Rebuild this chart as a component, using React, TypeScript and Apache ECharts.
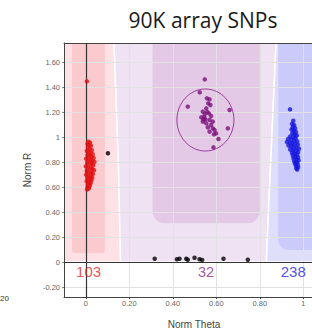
import React, { useEffect, useRef } from "react";
import * as echarts from "echarts";

// Axis ticks
const xTicks = [0, 0.2, 0.4, 0.6, 0.8, 1];
const yTicks = [-0.2, 0, 0.2, 0.4, 0.6, 0.8, 1, 1.2, 1.4, 1.6];

// Genotype call zones (light), as polygons in data coordinates [theta, R]
const zoneAA = [[-0.1, 0], [0.16, 0], [0.15, 0.8], [0.13, 1.752], [-0.1, 1.752]];
const zoneAB = [[0.16, 0], [0.83, 0], [0.845, 0.6], [0.875, 1.752], [0.13, 1.752], [0.15, 0.8]];
const zoneBB = [[0.83, 0], [1.1, 0], [1.1, 1.752], [0.875, 1.752], [0.845, 0.6]];

// Dense cluster boxes [x0, x1, yBottom, yTop]
const boxAA = [-0.064, 0.088, 0.072, 1.752];
const boxAB = [0.307, 0.8, 0.31, 1.752];
const boxBB = [0.885, 1.1, 0.096, 1.752];

// Cluster ellipses [cx, cy, rx, ry]
const ellipseAA = [0.015, 0.72, 0.014, 0.145];
const ellipseAB = [0.55, 1.136, 0.131, 0.248];

// Sample points [normTheta, normR]
const pointsAA = [
  [0.005, 1.445],
  [0.012, 0.962], [0.02, 0.955], [0.008, 0.945], [0.016, 0.935], [0.024, 0.93],
  [0.01, 0.918], [0.018, 0.905], [0.028, 0.895], [0.005, 0.888], [0.014, 0.878],
  [0.022, 0.87], [0.032, 0.862], [0.008, 0.855], [0.018, 0.848], [0.026, 0.84],
  [0.036, 0.832], [0.002, 0.826], [0.012, 0.82], [0.022, 0.812], [0.03, 0.805],
  [0.04, 0.8], [0.006, 0.795], [0.016, 0.788], [0.026, 0.78], [0.034, 0.772],
  [0.0, 0.765], [0.01, 0.758], [0.02, 0.75], [0.03, 0.742], [0.038, 0.735],
  [0.005, 0.728], [0.015, 0.72], [0.025, 0.712], [0.033, 0.705], [0.002, 0.698],
  [0.012, 0.69], [0.022, 0.682], [0.03, 0.675], [0.008, 0.668], [0.018, 0.66],
  [0.026, 0.652], [0.004, 0.645], [0.014, 0.638], [0.022, 0.63], [0.01, 0.62],
  [0.018, 0.61], [0.008, 0.6], [0.014, 0.59], [0.006, 0.58],
];

const pointsAB = [
  [0.547, 1.461], [0.524, 1.357], [0.469, 1.243], [0.661, 1.216], [0.653, 1.069],
  [0.587, 0.917], [0.61, 0.984],
  [0.557, 1.309], [0.569, 1.301], [0.563, 1.269], [0.573, 1.256], [0.554, 1.229],
  [0.538, 1.203], [0.547, 1.184], [0.566, 1.189], [0.531, 1.157], [0.55, 1.141],
  [0.569, 1.136], [0.584, 1.123], [0.538, 1.123], [0.554, 1.109], [0.576, 1.096],
  [0.561, 1.077], [0.584, 1.069], [0.592, 1.056], [0.599, 1.029], [0.569, 1.043],
  [0.576, 1.168], [0.541, 1.141], [0.589, 1.021], [0.558, 1.2], [0.545, 1.16],
];

const pointsBB = [
  [0.939, 1.221], [0.954, 1.13], [0.948, 1.105], [0.958, 1.095], [0.952, 1.08],
  [0.962, 1.07], [0.946, 1.06], [0.956, 1.05], [0.966, 1.04], [0.95, 1.03],
  [0.96, 1.02], [0.97, 1.012], [0.94, 1.005], [0.954, 0.998], [0.964, 0.99],
  [0.93, 0.985], [0.945, 0.978], [0.958, 0.97], [0.972, 0.965], [0.925, 0.96],
  [0.938, 0.955], [0.95, 0.948], [0.962, 0.942], [0.975, 0.938], [0.932, 0.932],
  [0.944, 0.925], [0.956, 0.918], [0.968, 0.912], [0.98, 0.906], [0.94, 0.9],
  [0.952, 0.893], [0.964, 0.886], [0.976, 0.88], [0.948, 0.872], [0.96, 0.865],
  [0.972, 0.858], [0.952, 0.85], [0.964, 0.842], [0.976, 0.835], [0.955, 0.828],
  [0.968, 0.82], [0.978, 0.812], [0.958, 0.805], [0.97, 0.797], [0.962, 0.788],
  [0.974, 0.78], [0.966, 0.77], [0.976, 0.76], [0.968, 0.75], [0.972, 0.74],
];

const pointsNoCall = [
  [0.102, 0.87],
  [0.317, 0.026], [0.419, 0.022], [0.431, 0.026], [0.462, 0.026], [0.469, 0.018],
  [0.5, 0.034], [0.523, 0.022], [0.535, 0.016], [0.633, 0.026], [0.745, 0.018],
];

// Genotype counts and where they are printed
const genotypes = ["AA", "AB", "BB"];
const counts = [103, 32, 238];
const countTheta = [0.013, 0.553, 0.954];
const countR = [-0.078, -0.078, -0.078];

const zones = [zoneAA, zoneAB, zoneBB];
const boxes = [boxAA, boxAB, boxBB];
const ellipses = [ellipseAA, ellipseAB];

const zoneColors = ["#fde1e4", "#efe3f3", "#dfdffc"];
const boxColors = ["#fbcace", "#e3c9e6", "#cacafb"];
const boxRadius = [[0, 0, 3, 3], [0, 0, 12, 12], [0, 0, 0, 10]];
const ellipseColors = ["#e01818", "#9a3c9a"];
const countColors = ["#e02828", "#862a86", "#2424e0"];
const FONT = "'Liberation Sans', Arial, sans-serif";

const fmt = (v: number) => (v === 0 ? "0" : v === 1 ? "1" : v.toFixed(2));

export default function App() {
  const ref = useRef<HTMLDivElement>(null);
  useEffect(() => {
    if (!ref.current) return;
    const chart = echarts.init(ref.current, null, { renderer: "svg" });
    const xMin = -0.1, xMax = 1.04, yMin = -0.28, yMax = 1.752;
    chart.setOption({
      animation: false,
      backgroundColor: "#ffffff",
      grid: { left: 64, top: 43, right: 0, bottom: 35, show: false },
      graphic: [
        { type: "text", x: 203, y: 20, style: { text: "90K array SNPs", fontFamily: "'Open Sans', sans-serif", fontSize: 21, fill: "#1a1a1a", textAlign: "center", textVerticalAlign: "middle" } },
        { type: "text", x: 27, y: 170, rotation: Math.PI / 2, style: { text: "Norm R", fontFamily: FONT, fontSize: 10, fill: "#444", textAlign: "center", textVerticalAlign: "middle" } },
        { type: "text", x: 194, y: 324, style: { text: "Norm Theta", fontFamily: FONT, fontSize: 10, fill: "#444", textAlign: "center", textVerticalAlign: "middle" } },
        { type: "text", x: 0, y: 298, style: { text: "20", fontFamily: FONT, fontSize: 8, fill: "#333", textAlign: "left", textVerticalAlign: "middle" } },
      ],
      xAxis: [
        {
          type: "value", min: xMin, max: xMax, position: "bottom", z: 2,
          axisLine: { show: true, onZero: false, lineStyle: { color: "#444", width: 1 } },
          axisTick: { show: true, length: 2, customValues: xTicks, lineStyle: { color: "#444" } },
          axisLabel: { customValues: xTicks, formatter: fmt, fontSize: 7.5, color: "#666", margin: 2, fontFamily: FONT },
          splitLine: { show: true, lineStyle: { color: "#e2e2e2", width: 1 } },
        },
        {
          type: "value", min: xMin, max: xMax, position: "top", z: 2,
          axisLine: { show: true, onZero: false, lineStyle: { color: "#444", width: 1 } },
          axisTick: { show: false }, axisLabel: { show: false }, splitLine: { show: false },
        },
      ],
      yAxis: {
        type: "value", min: yMin, max: yMax, z: 2,
        axisLine: { show: true, onZero: false, lineStyle: { color: "#444", width: 1 } },
        axisTick: { show: true, length: 2, customValues: yTicks, lineStyle: { color: "#888" } },
        axisLabel: { customValues: yTicks, formatter: fmt, fontSize: 7.5, color: "#666", margin: 4, fontFamily: FONT },
        splitLine: { show: true, lineStyle: { color: "#e2e2e2", width: 1 } },
      },
      series: [
        {
          type: "custom", z: 0, clip: true, silent: true,
          data: zones.map((z) => z[0]),
          renderItem: (params: any, api: any) => {
            const pts = zones[params.dataIndex].map((p) => api.coord(p));
            return { type: "polygon", shape: { points: pts }, style: { fill: zoneColors[params.dataIndex], stroke: "#ffffff", lineWidth: 1.5 } };
          },
        },
        {
          type: "custom", z: 1, clip: true, silent: true,
          data: boxes.map((b) => [b[0], b[2]]),
          renderItem: (params: any, api: any) => {
            const b = boxes[params.dataIndex];
            const p0 = api.coord([b[0], b[3]]);
            const p1 = api.coord([b[1], b[2]]);
            return { type: "rect", shape: { x: p0[0], y: p0[1], width: p1[0] - p0[0], height: p1[1] - p0[1], r: boxRadius[params.dataIndex] }, style: { fill: boxColors[params.dataIndex] } };
          },
        },
        {
          type: "scatter", z: 3, data: [], silent: true,
          markLine: {
            symbol: "none", silent: true, label: { show: false },
            lineStyle: { color: "#333", type: "solid", width: 1.2 },
            data: [{ xAxis: 0 }, { yAxis: 0 }],
          },
        },
        {
          type: "custom", z: 4, clip: true, silent: true,
          data: ellipses.map((e) => [e[0], e[1]]),
          renderItem: (params: any, api: any) => {
            const e = ellipses[params.dataIndex];
            const c = api.coord([e[0], e[1]]);
            const s = api.size([e[2], e[3]]);
            return { type: "ellipse", shape: { cx: c[0], cy: c[1], rx: s[0], ry: s[1] }, style: { fill: "none", stroke: ellipseColors[params.dataIndex], lineWidth: 1 } };
          },
        },
        { type: "scatter", z: 5, data: pointsAA, symbolSize: 4.5, itemStyle: { color: "#e41010" } },
        { type: "scatter", z: 5, data: pointsAB, symbolSize: 4.5, itemStyle: { color: "#7a107a" } },
        { type: "scatter", z: 5, data: pointsBB, symbolSize: 4.5, itemStyle: { color: "#1414e0" } },
        { type: "scatter", z: 5, data: pointsNoCall, symbolSize: 4.5, itemStyle: { color: "#000000" } },
        {
          type: "scatter", z: 5, symbolSize: 0, silent: true,
          data: genotypes.map((g, i) => ({
            name: g, value: [countTheta[i], countR[i]],
            label: { show: true, position: "inside", formatter: String(counts[i]), color: countColors[i], fontSize: i === 1 ? 14.5 : 15, fontFamily: FONT },
          })),
        },
      ],
    });
    return () => chart.dispose();
  }, []);
  return <div ref={ref} style={{ position: "fixed", left: 0, top: 0, width: 312, height: 332 }} />;
}
